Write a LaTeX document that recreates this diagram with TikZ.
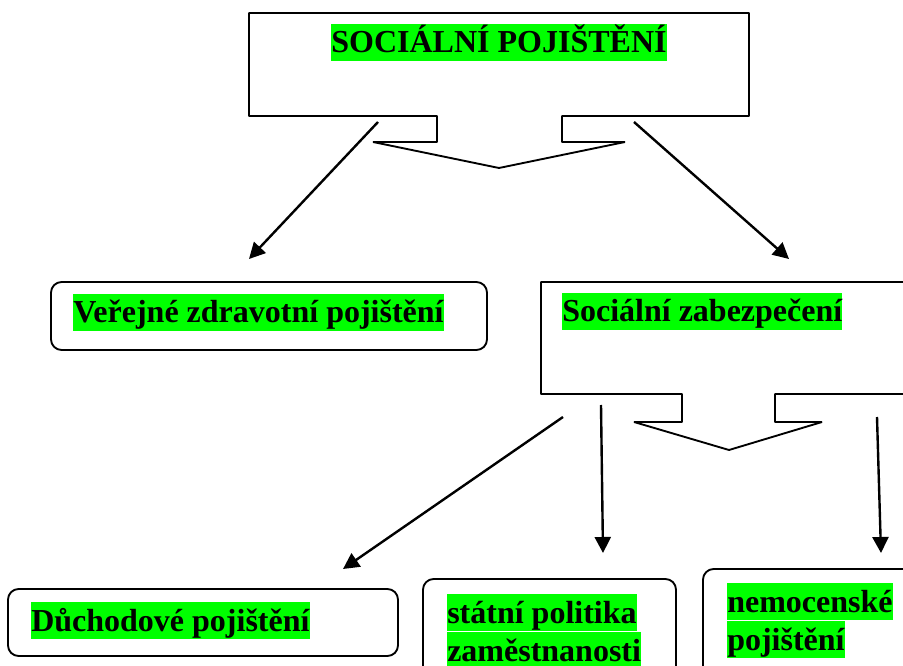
\documentclass[tikz,border=0pt]{standalone}
\usepackage{fontspec}
\setmainfont{Liberation Serif}
\usetikzlibrary{arrows.meta}
\definecolor{hl}{RGB}{0,255,0}
\begin{document}
\begin{tikzpicture}[x=0.75pt,y=-0.75pt,
  callout/.style={draw=black, line width=1.4pt, line join=bevel},
  rbox/.style={draw=black, line width=1.4pt, rounded corners=8pt},
  lbl/.style={fill=hl, inner sep=0pt, anchor=base west, font=\fontsize{24}{28}\selectfont\bfseries, text height=21.5pt, text depth=6pt},
  arr/.style={line width=1.8pt, -{Triangle[length=12pt,width=12pt]}}]
\useasboundingbox (0,0) rectangle (903,666);
\clip (0,0) rectangle (903,666);

% top callout
\draw[callout] (249,13) -- (749,13) -- (749,116) -- (562,116) -- (562,142) -- (625,142)
  -- (499,168) -- (373,142) -- (437,142) -- (437,116) -- (249,116) -- cycle;
\node[lbl, anchor=base] (t) at (499,53) {SOCIÁLNÍ POJIŠTĚNÍ};

% Verejne zdravotni
\draw[rbox] (51,282) rectangle (487,350);
\node[lbl] (vz) at (73,323) {Veřejné zdravotní pojištění};

% Socialni zabezpeceni callout
\draw[callout] (541,282) -- (915,282) -- (915,394) -- (775,394) -- (775,422) -- (822,422)
  -- (729,450) -- (634,422) -- (682,422) -- (682,394) -- (541,394) -- cycle;
\node[lbl] (sz) at (562,322) {Sociální zabezpečení};

% bottom boxes
\draw[rbox] (8,589) rectangle (398,656);
\node[lbl] (dp) at (31,631) {Důchodové pojištění};

\draw[rbox] (423,579) rectangle (676,690);
\node[lbl] (sp1) at (447,623) {státní politika};
\node[lbl] (sp2) at (447,661) {zaměstnanosti};

\draw[rbox] (703,569) rectangle (915,690);
\node[lbl] (np1) at (727,612) {nemocenské};
\node[lbl] (np2) at (727,650) {pojištění};

% arrows
\coordinate (a1s) at (378,122); \coordinate (a1e) at (249,259);
\coordinate (a2s) at (634,122); \coordinate (a2e) at (789,259);
\coordinate (a3s) at (563,417); \coordinate (a3e) at (343,569);
\coordinate (a4s) at (601,405); \coordinate (a4e) at (603,553);
\coordinate (a5s) at (877,417); \coordinate (a5e) at (881,553);
\draw[arr] (a1s) -- (a1e);
\draw[arr] (a2s) -- (a2e);
\draw[arr] (a3s) -- (a3e);
\draw[arr] (a4s) -- (a4e);
\draw[arr] (a5s) -- (a5e);
\end{tikzpicture}
\end{document}
